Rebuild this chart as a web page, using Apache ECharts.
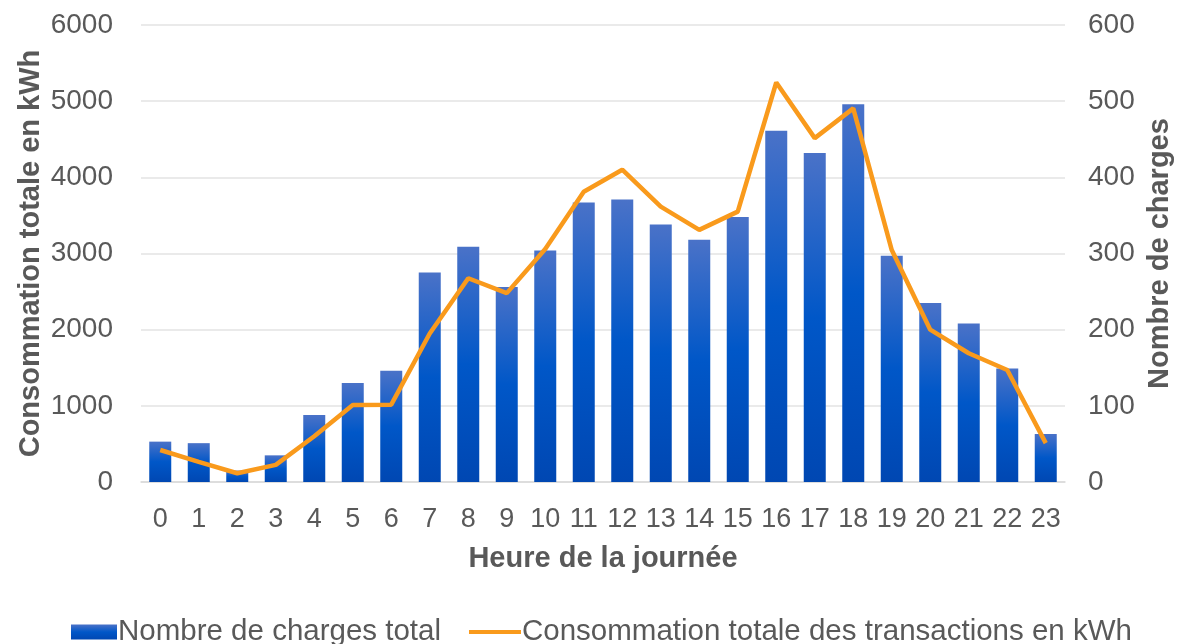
<!DOCTYPE html>
<html>
<head>
<meta charset="utf-8">
<script src="https://cdn.jsdelivr.net/npm/echarts@6/dist/echarts.min.js"></script>
<style>
  html, body { margin: 0; padding: 0; background: #fff; }
  #chart { width: 1188px; height: 644px; }
</style>
</head>
<body>
<div id="chart"></div>
<script>
// heures de la journée
const heures = ['0','1','2','3','4','5','6','7','8','9','10','11','12','13','14','15','16','17','18','19','20','21','22','23'];
// nombre de charges (axe de droite)
const nombreCharges = [53, 51, 15, 35, 88, 130, 146, 275, 309, 256, 304, 367, 371, 338, 318, 348, 461, 432, 496, 297, 235, 208, 149, 63];
// consommation en kWh (axe de gauche)
const consommation = [420, 265, 115, 225, 600, 1010, 1015, 1950, 2675, 2480, 3060, 3810, 4100, 3615, 3310, 3550, 5245, 4515, 4905, 3045, 2000, 1690, 1470, 510];

const gris = '#595959';
const orange = '#f99a1c';
const police = 'Liberation Sans, Arial, sans-serif';

const chart = echarts.init(document.getElementById('chart'));
const option = {
  backgroundColor: '#fff',
  animation: false,
  textStyle: { fontFamily: police },
  grid: { left: 141, right: 123, top: 25, bottom: 162 },
  // deux légendes pour avoir des icônes de taille différente
  legend: [
    {
      left: 66, top: 612,
      itemWidth: 46, itemHeight: 15,
      textStyle: { color: gris, fontSize: 29.5, fontFamily: police, padding: [0, 0, 0, -4] },
      data: [{ name: 'Nombre de charges total', icon: 'rect' }]
    },
    {
      left: 464, top: 612,
      itemWidth: 52, itemHeight: 4,
      textStyle: { color: gris, fontSize: 29.5, fontFamily: police, padding: [0, 0, 0, -4] },
      data: [{ name: 'Consommation totale des transactions en kWh', icon: 'rect' }]
    }
  ],
  xAxis: {
    type: 'category',
    data: heures,
    name: 'Heure de la journée',
    nameLocation: 'middle',
    nameGap: 62,
    nameTextStyle: { color: gris, fontSize: 29, fontWeight: 'bold' },
    axisLine: { lineStyle: { color: '#d9d9d9', width: 1.5 } },
    axisTick: { show: false },
    axisLabel: { color: gris, fontSize: 27, margin: 24, interval: 0 }
  },
  yAxis: [
    {
      type: 'value',
      min: 0, max: 6000, interval: 1000,
      name: 'Consommation totale en kWh',
      nameLocation: 'middle',
      nameRotate: 90,
      nameGap: 96,
      nameMoveOverlap: false,
      nameTextStyle: { color: gris, fontSize: 29, fontWeight: 'bold' },
      axisLabel: { color: gris, fontSize: 28, margin: 28, formatter: v => String(v) },
      splitLine: { lineStyle: { color: '#e3e3e3', width: 1.5 } },
      axisLine: { show: false },
      axisTick: { show: false }
    },
    {
      type: 'value',
      min: 0, max: 600, interval: 100,
      name: 'Nombre de charges',
      nameLocation: 'middle',
      nameRotate: 90,
      nameGap: 80,
      nameTextStyle: { color: gris, fontSize: 29, fontWeight: 'bold' },
      axisLabel: { color: gris, fontSize: 28, margin: 23, formatter: v => String(v) },
      splitLine: { show: false },
      axisLine: { show: false },
      axisTick: { show: false }
    }
  ],
  series: [
    {
      name: 'Nombre de charges total',
      type: 'bar',
      yAxisIndex: 1,
      barWidth: 22,
      data: nombreCharges,
      itemStyle: {
        color: new echarts.graphic.LinearGradient(0, 0, 0, 1, [
          { offset: 0, color: '#4a72c8' },
          { offset: 0.5, color: '#0057c8' },
          { offset: 1, color: '#0047b2' }
        ])
      }
    },
    {
      name: 'Consommation totale des transactions en kWh',
      type: 'line',
      yAxisIndex: 0,
      data: consommation,
      symbol: 'none',
      lineStyle: { color: orange, width: 4.5 },
      itemStyle: { color: orange }
    }
  ]
};
chart.setOption(option);
</script>
</body>
</html>
